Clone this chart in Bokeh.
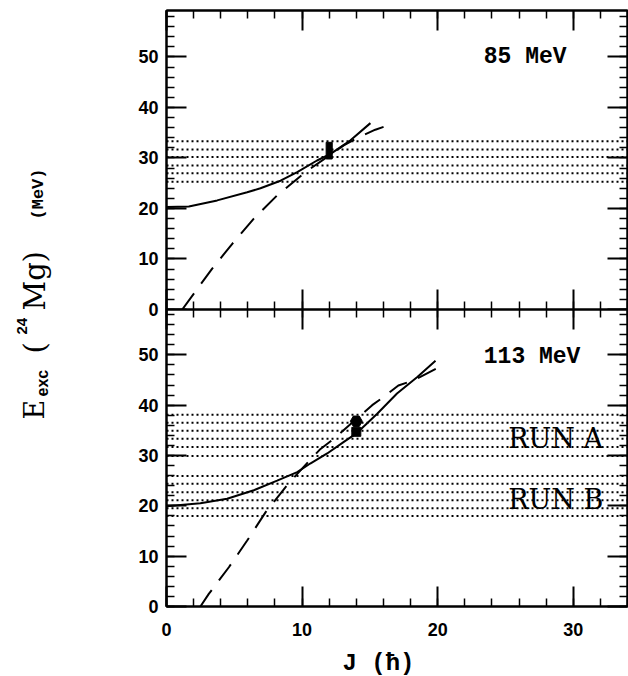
from math import pi
from bokeh.plotting import figure
from bokeh.models import Range1d, LinearAxis, SingleIntervalTicker, Span, Label
from bokeh.layouts import row, column
from bokeh.embed import file_html
from bokeh.resources import INLINE

# ---------------- data: 85 MeV panel ----------------
j85_solid = [0.0, 1.65, 3.74, 5.95, 6.93, 8.41, 9.64, 11.1, 12.1, 13.57, 15.04]
e85_solid = [20.3, 20.4, 21.6, 23.2, 24.0, 25.5, 27.2, 29.5, 30.8, 33.5, 36.9]
j85_dash = [1.16, 3.37, 4.85, 6.44, 8.16, 10.25, 13.07, 14.18, 15.4, 16.5]
e85_dash = [0.0, 8.1, 13.0, 18.0, 22.6, 27.2, 32.5, 34.1, 35.6, 36.6]
j85_exp = [12.0]
e85_exp_low = [29.8]
e85_exp_high = [33.1]
bins85 = [25.3, 27.0, 28.5, 30.2, 31.7, 33.3]

# ---------------- data: 113 MeV panel ----------------
j113_solid = [0.0, 2.5, 4.47, 6.44, 8.16, 9.64, 10.6, 11.85, 13.08, 14.06, 15.54, 17.0, 18.5, 19.84]
e113_solid = [19.9, 20.5, 21.4, 23.1, 25.0, 26.7, 28.4, 30.4, 32.7, 34.5, 38.3, 42.3, 45.6, 48.8]
j113_dash = [2.5, 3.12, 4.6, 5.95, 7.3, 8.9, 10.1, 11.36, 12.34, 15.17, 16.0, 17.1, 18.2, 20.45]
e113_dash = [0.0, 2.5, 7.8, 13.1, 18.7, 24.1, 27.7, 31.3, 33.3, 40.0, 41.6, 43.9, 44.9, 48.0]
j113_exp = [14.0]
e113_exp_upper = [36.8]
e113_exp_lower = [34.7]
binsA = [29.9, 31.7, 33.3, 34.9, 36.5, 38.1]
binsB = [18.0, 19.5, 21.1, 22.7, 24.4, 25.9]

panel_titles = ["85 MeV", "113 MeV"]
run_titles = ["RUN A", "RUN B"]
x_title = "J (\u0127)"

TICK_FONT = "Liberation Sans"
OVERLAP = 14  # px of the top canvas hidden under the bottom one (keeps the top "0" label whole)


def add_axes(p, show_left, show_below):
    for side in ("left", "right", "above", "below"):
        ax = LinearAxis(ticker=SingleIntervalTicker(interval=10, num_minor_ticks=5))
        ax.major_tick_in = 20
        ax.major_tick_out = 0
        ax.minor_tick_in = 8
        ax.minor_tick_out = 0
        ax.major_tick_line_width = 2
        ax.minor_tick_line_width = 1.5
        ax.axis_line_width = 2
        ax.axis_line_color = "black"
        show = (side == "left" and show_left) or (side == "below" and show_below)
        if show:
            ax.major_label_text_font = TICK_FONT
            ax.major_label_text_font_style = "bold"
            ax.major_label_text_font_size = "18px"
            ax.major_label_text_color = "black"
            ax.major_label_standoff = 8 if side == "left" else 16
        else:
            ax.major_label_text_color = None
            ax.major_label_text_font_size = "0px"
            ax.major_label_standoff = 0
        p.add_layout(ax, side)


def make_panel(height, y_end, border_top, border_bottom):
    p = figure(width=568, height=height,
               x_range=Range1d(0, 34), y_range=Range1d(0, y_end),
               x_axis_type=None, y_axis_type=None,
               output_backend="svg", toolbar_location=None,
               min_border_left=106, min_border_right=1,
               min_border_top=border_top, min_border_bottom=border_bottom)
    p.outline_line_color = "black"
    p.outline_line_width = 2
    return p


def add_bins(p, bins):
    for b in bins:
        p.add_layout(Span(location=b, dimension="width", line_color="black",
                          line_width=2, line_dash="2 3"))


def note(p, x, y, text, font, size, style="normal"):
    p.add_layout(Label(x=x, y=y, text=text, text_font=font, text_font_size=size,
                       text_font_style=style, text_color="black", text_baseline="middle"))


# ---------------- top panel ----------------
top = make_panel(10 + 299 + OVERLAP, 59.2, 10, OVERLAP)
add_axes(top, True, False)
add_bins(top, bins85)
top.line(j85_solid, e85_solid, line_color="black", line_width=2)
top.line(j85_dash, e85_dash, line_color="black", line_width=2, line_dash="20 12")
top.vbar(x=j85_exp, bottom=e85_exp_low, top=e85_exp_high, width=0.45, color="black")
note(top, 23.4, 49.9, panel_titles[0], "Liberation Mono", "23px", "bold")

# ---------------- bottom panel ----------------
bot = make_panel(297 + 40, 59.0, 0, 40)
bot.margin = (-OVERLAP, 0, 0, 0)
bot.border_fill_color = None
add_axes(bot, True, True)
add_bins(bot, binsA)
add_bins(bot, binsB)
bot.line(j113_solid, e113_solid, line_color="black", line_width=2)
bot.line(j113_dash, e113_dash, line_color="black", line_width=2, line_dash="20 12")
bot.scatter(j113_exp, e113_exp_upper, marker="hex", size=12, color="black")
bot.scatter(j113_exp, e113_exp_lower, marker="square", size=9, color="black")
note(bot, 23.4, 49.6, panel_titles[1], "Liberation Mono", "23px", "bold")
note(bot, 25.2, 33.4, run_titles[0], "DejaVu Serif", "27px")
note(bot, 25.2, 21.3, run_titles[1], "DejaVu Serif", "27px")

# ---------------- x-axis title strip ----------------
xlab = figure(width=568, height=30, x_range=Range1d(0, 1), y_range=Range1d(0, 1),
              x_axis_type=None, y_axis_type=None, output_backend="svg",
              toolbar_location=None, min_border=0)
xlab.outline_line_color = None
xlab.add_layout(Label(x=212, y=13, x_units="screen", y_units="screen", text=x_title,
                      text_font="Liberation Mono", text_font_style="bold",
                      text_font_size="24px", text_color="black",
                      text_align="center", text_baseline="middle"))

# ---------------- y-axis title strip ----------------
lab = figure(width=60, height=676, x_range=Range1d(0, 1), y_range=Range1d(0, 1),
             x_axis_type=None, y_axis_type=None, output_backend="svg",
             toolbar_location=None, min_border=0)
lab.outline_line_color = None


def ytitle(text, y_page, x_base, font, size, style="normal"):
    lab.add_layout(Label(x=x_base, y=676 - y_page, x_units="screen", y_units="screen",
                         text=text, angle=pi / 2, text_font=font, text_font_size=size,
                         text_font_style=style, text_color="black", text_align="left",
                         text_baseline="alphabetic"))


ytitle("E", 419, 34, "DejaVu Serif", "27px")
ytitle("exc", 396, 42, "Liberation Sans", "16px", "bold")
ytitle("(", 353, 34, "DejaVu Serif", "29px")
ytitle("24", 334, 21, "Liberation Sans", "15px", "bold")
ytitle("Mg", 310, 34, "DejaVu Serif", "29px")
ytitle(")", 262, 34, "DejaVu Serif", "29px")
ytitle("(MeV)", 219, 38, "Liberation Mono", "17px", "bold")

layout = row(lab, column(top, bot, xlab))
open("out.html", "w").write(file_html(layout, INLINE))
